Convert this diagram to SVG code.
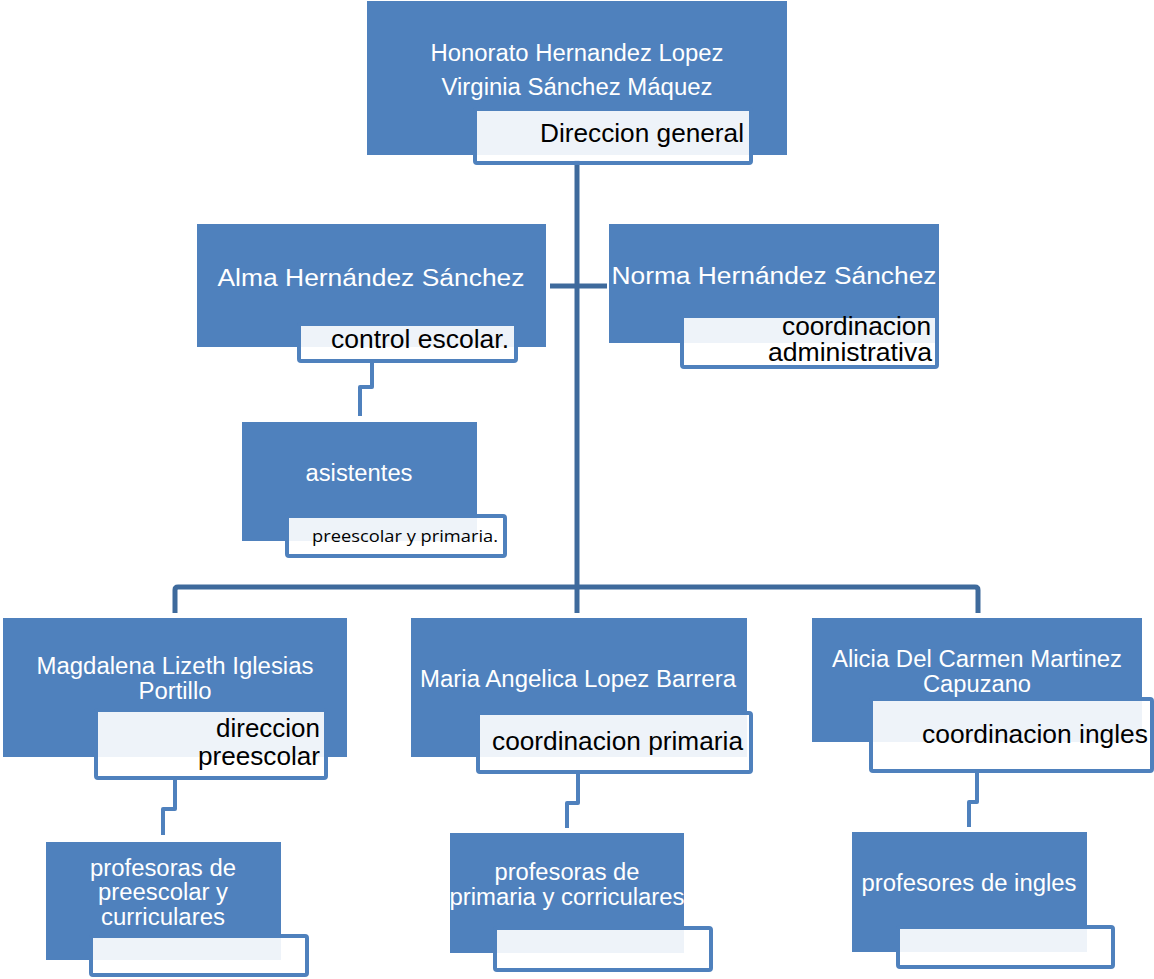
<svg xmlns="http://www.w3.org/2000/svg" width="1154" height="979" viewBox="0 0 1154 979">
<style>
.n{fill:#4f81bd}
.s{fill:#ffffff;fill-opacity:0.9;stroke:#4f81bd;stroke-width:4}
.w{font-family:"Liberation Sans",Arial,sans-serif;fill:#ffffff;font-size:23px;text-anchor:middle}
.b{font-family:"Liberation Sans",Arial,sans-serif;fill:#000000;font-size:25px;text-anchor:end}
.c{font-family:"Open Sans","Noto Sans",sans-serif;fill:#000000;font-size:17px;text-anchor:end}
.t{fill:none;stroke:#3e6a9c;stroke-width:5;stroke-linejoin:round}
.l{fill:none;stroke:#4f81bd;stroke-width:4;stroke-linejoin:round}
</style>
<rect width="1154" height="979" fill="#ffffff"/>
<g id="connectors">
<path class="t" d="M577 160 V613"/>
<path class="t" d="M550 286 H607"/>
<path class="t" d="M175 613 V590 Q175 587 178 587 H975 Q978 587 978 590 V613"/>
<path class="l" d="M372 360 V387 H360 V416"/>
<path class="l" d="M175 778 V809 H163 V835"/>
<path class="l" d="M578 772 V803 H567 V828"/>
<path class="l" d="M977 771 V802 H969 V827"/>
</g>
<g id="n-direccion-general">
<rect class="n" x="367" y="1" width="420" height="154"/>
<text class="w" x="577" y="61" textLength="293" lengthAdjust="spacingAndGlyphs">Honorato Hernandez Lopez</text>
<text class="w" x="577" y="95" textLength="271" lengthAdjust="spacingAndGlyphs">Virginia Sánchez Máquez</text>
<rect class="s" x="475" y="109" width="276" height="54" rx="2"/>
<text class="b" x="744" y="142" textLength="204" lengthAdjust="spacingAndGlyphs">Direccion general</text>
</g>
<g id="n-control-escolar">
<rect class="n" x="197" y="224" width="349" height="123"/>
<text class="w" x="371" y="286" font-size="25" textLength="307" lengthAdjust="spacingAndGlyphs">Alma Hernández Sánchez</text>
<rect class="s" x="299" y="324" width="217" height="37" rx="2"/>
<text class="b" x="509" y="348" textLength="178" lengthAdjust="spacingAndGlyphs">control escolar.</text>
</g>
<g id="n-coordinacion-administrativa">
<rect class="n" x="609" y="224" width="330" height="119"/>
<text class="w" x="774" y="284" font-size="25" textLength="325" lengthAdjust="spacingAndGlyphs">Norma Hernández Sánchez</text>
<rect class="s" x="682" y="316" width="255" height="51" rx="2"/>
<text class="b" x="931" y="335" font-size="23" textLength="149" lengthAdjust="spacingAndGlyphs">coordinacion</text>
<text class="b" x="932" y="361" font-size="23" textLength="164" lengthAdjust="spacingAndGlyphs">administrativa</text>
</g>
<g id="n-asistentes">
<rect class="n" x="242" y="422" width="235" height="119"/>
<text class="w" x="359" y="481" textLength="107" lengthAdjust="spacingAndGlyphs">asistentes</text>
<rect class="s" x="287" y="516" width="218" height="40" rx="2"/>
<text class="c" x="498" y="542" textLength="186" lengthAdjust="spacingAndGlyphs">preescolar y primaria.</text>
</g>
<g id="n-direccion-preescolar">
<rect class="n" x="3" y="618" width="344" height="139"/>
<text class="w" x="175" y="674" font-size="21" textLength="277" lengthAdjust="spacingAndGlyphs">Magdalena Lizeth Iglesias</text>
<text class="w" x="175" y="699" font-size="21" textLength="73" lengthAdjust="spacingAndGlyphs">Portillo</text>
<rect class="s" x="96" y="710" width="230" height="68" rx="2"/>
<text class="b" x="320" y="737" font-size="24" textLength="104" lengthAdjust="spacingAndGlyphs">direccion</text>
<text class="b" x="320" y="765" font-size="24" textLength="122" lengthAdjust="spacingAndGlyphs">preescolar</text>
</g>
<g id="n-coordinacion-primaria">
<rect class="n" x="411" y="618" width="336" height="139"/>
<text class="w" x="578" y="687" textLength="316" lengthAdjust="spacingAndGlyphs">Maria Angelica Lopez Barrera</text>
<rect class="s" x="478" y="713" width="273" height="59" rx="2"/>
<text class="b" x="743" y="750" textLength="251" lengthAdjust="spacingAndGlyphs">coordinacion primaria</text>
</g>
<g id="n-coordinacion-ingles">
<rect class="n" x="812" y="618" width="330" height="124"/>
<text class="w" x="977" y="667" font-size="21" textLength="290" lengthAdjust="spacingAndGlyphs">Alicia Del Carmen Martinez</text>
<text class="w" x="977" y="692" font-size="21" textLength="108" lengthAdjust="spacingAndGlyphs">Capuzano</text>
<rect class="s" x="871" y="699" width="281" height="72" rx="2"/>
<text class="b" x="1148" y="743" textLength="226" lengthAdjust="spacingAndGlyphs">coordinacion ingles</text>
</g>
<g id="n-profesoras-preescolar">
<rect class="n" x="46" y="842" width="235" height="118"/>
<text class="w" x="163" y="876" font-size="19" textLength="146" lengthAdjust="spacingAndGlyphs">profesoras de</text>
<text class="w" x="163" y="900" font-size="19" textLength="130" lengthAdjust="spacingAndGlyphs">preescolar y</text>
<text class="w" x="163" y="925" font-size="19" textLength="124" lengthAdjust="spacingAndGlyphs">curriculares</text>
<rect class="s" x="91" y="936" width="216" height="39" rx="2"/>
</g>
<g id="n-profesoras-primaria">
<rect class="n" x="450" y="833" width="234" height="120"/>
<text class="w" x="567" y="880" font-size="21" textLength="145" lengthAdjust="spacingAndGlyphs">profesoras de</text>
<text class="w" x="567" y="905" font-size="21" textLength="235" lengthAdjust="spacingAndGlyphs">primaria y corriculares</text>
<rect class="s" x="495" y="928" width="216" height="42" rx="2"/>
</g>
<g id="n-profesores-ingles">
<rect class="n" x="852" y="832" width="235" height="120"/>
<text class="w" x="969" y="891" textLength="215" lengthAdjust="spacingAndGlyphs">profesores de ingles</text>
<rect class="s" x="898" y="927" width="215" height="40" rx="2"/>
</g>
</svg>
